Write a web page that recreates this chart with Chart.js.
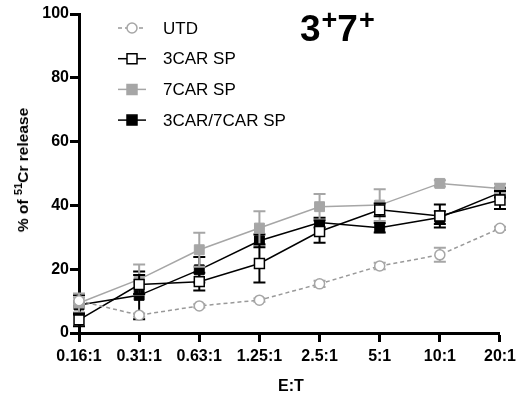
<!DOCTYPE html>
<html>
<head>
<meta charset="utf-8">
<script src="https://cdn.jsdelivr.net/npm/chart.js@4.4.0/dist/chart.umd.min.js"></script>
<style>
    body { margin: 0; background: #fff; font-family: "Liberation Sans", Arial, sans-serif; }
    #wrap { position: relative; width: 521px; height: 393px; }
    #title { position: absolute; left: 300px; top: 10px; font-size: 37px; font-weight: bold; line-height: 1; color: #000; }
    #title span { font-size: 27px; position: relative; top: -12px; margin-left: 1px; }
    #ytitle { position: absolute; left: 23px; top: 170px; font-size: 15.5px; font-weight: bold; white-space: nowrap;
              transform: translate(-50%, -50%) rotate(-90deg); }
    #ytitle sup { font-size: 11px; vertical-align: 6px; line-height: 0; }
    #xtitle { position: absolute; left: 291px; top: 386px; transform: translate(-50%, -50%); font-size: 16px; font-weight: bold; }
</style>
</head>
<body>
<div id="wrap">
    <canvas id="chart" width="521" height="393"></canvas>
    <div id="title">3<span>+</span>7<span>+</span></div>
    <div id="ytitle">% of <sup>51</sup>Cr release</div>
    <div id="xtitle">E:T</div>
</div>
<script>
// ratios (E:T)
var ratios = ['0.16:1', '0.31:1', '0.63:1', '1.25:1', '2.5:1', '5:1', '10:1', '20:1'];
var yTicks = [0, 20, 40, 60, 80, 100];

// % release, mean and error
var utd = [10.1, 5.6, 8.5, 10.3, 15.4, 21, 24.5, 32.8];
var utdErr = [1, 0.5, 0.5, 0.5, 1, 1, 2.2, 0.5];
var car3 = [4.1, 15.2, 16.1, 21.8, 31.8, 38.6, 36.7, 41.7];
var car3Err = [2, 3, 2.8, 6, 3.5, 2, 3.6, 2.8];
var car7 = [9.4, 16.8, 26.1, 32.9, 39.6, 40.1, 46.9, 45.3];
var car7Err = [3, 4.7, 5.3, 5.3, 4, 5, 1, 1.5];
var car37 = [8.8, 11.8, 19.8, 28.9, 34.6, 33, 36.2, 44];
var car37Err = [3, 7.5, 4, 2, 1.5, 1.5, 2, 1.5];

var GREY = '#a6a6a6';
var FONT = '"Liberation Sans", Arial, sans-serif';

// error bars drawn under each dataset's markers
var errorBars = {
    id: 'errorBars',
    beforeDatasetDraw: function(chart, args) {
        var ds = chart.data.datasets[args.index];
        if (!ds.errors) return;
        var ctx = chart.ctx;
        var y = chart.scales.y;
        ctx.save();
        ctx.strokeStyle = ds.errColor;
        ctx.lineWidth = 2;
        args.meta.data.forEach(function(pt, i) {
            var e = ds.errors[i];
            if (!e) return;
            var top = y.getPixelForValue(ds.data[i] + e);
            var bot = y.getPixelForValue(ds.data[i] - e);
            ctx.beginPath();
            ctx.moveTo(pt.x, top); ctx.lineTo(pt.x, bot);
            ctx.moveTo(pt.x - 6, top); ctx.lineTo(pt.x + 6, top);
            ctx.moveTo(pt.x - 6, bot); ctx.lineTo(pt.x + 6, bot);
            ctx.stroke();
        });
        ctx.restore();
    }
};

// GraphPad style legend: line through marker, label on the right
var sideLegend = {
    id: 'sideLegend',
    afterDraw: function(chart) {
        var ctx = chart.ctx;
        ctx.save();
        chart.data.datasets.forEach(function(ds, i) {
            var cy = 28 + i * 30.7;
            var cx = 132;
            ctx.strokeStyle = ds.borderColor;
            ctx.lineWidth = 1.5;
            ctx.setLineDash(ds.borderDash || []);
            ctx.beginPath();
            ctx.moveTo(118, cy); ctx.lineTo(146, cy);
            ctx.stroke();
            ctx.setLineDash([]);
            ctx.fillStyle = ds.pointBackgroundColor;
            ctx.strokeStyle = ds.pointBorderColor;
            ctx.lineWidth = 1.5;
            ctx.beginPath();
            if (ds.pointStyle === 'circle') {
                ctx.arc(cx, cy, 5, 0, Math.PI * 2);
            } else {
                ctx.rect(cx - 5, cy - 5, 10, 10);
            }
            ctx.fill();
            ctx.stroke();
            ctx.fillStyle = '#000';
            ctx.font = '17px ' + FONT;
            ctx.textBaseline = 'middle';
            ctx.fillText(ds.label, 163, cy + 1);
        });
        ctx.restore();
    }
};

var ctx = document.getElementById('chart').getContext('2d');
var chart = new Chart(ctx, {
    type: 'line',
    data: {
        labels: ratios,
        datasets: [{
            label: 'UTD',
            data: utd,
            errors: utdErr,
            errColor: GREY,
            borderColor: '#999',
            borderDash: [4, 3],
            borderWidth: 1.5,
            pointStyle: 'circle',
            pointRadius: 5,
            pointBackgroundColor: '#fff',
            pointBorderColor: GREY,
            pointBorderWidth: 1.5
        }, {
            label: '3CAR SP',
            data: car3,
            errors: car3Err,
            errColor: '#000',
            borderColor: '#000',
            borderWidth: 1.5,
            pointStyle: 'rect',
            pointRadius: 7,
            pointBackgroundColor: '#fff',
            pointBorderColor: '#000',
            pointBorderWidth: 1.5
        }, {
            label: '7CAR SP',
            data: car7,
            errors: car7Err,
            errColor: GREY,
            borderColor: GREY,
            borderWidth: 1.5,
            pointStyle: 'rect',
            pointRadius: 7,
            pointBackgroundColor: GREY,
            pointBorderColor: GREY,
            pointBorderWidth: 1
        }, {
            label: '3CAR/7CAR SP',
            data: car37,
            errors: car37Err,
            errColor: '#000',
            borderColor: '#000',
            borderWidth: 1.5,
            pointStyle: 'rect',
            pointRadius: 7,
            pointBackgroundColor: '#000',
            pointBorderColor: '#000',
            pointBorderWidth: 1
        }]
    },
    options: {
        responsive: false,
        animation: false,
        clip: false,
        layout: { padding: { top: 14, right: 16, left: 0, bottom: 0 } },
        plugins: { legend: { display: false }, tooltip: { enabled: false } },
        elements: { line: { tension: 0 } },
        scales: {
            x: {
                type: 'category',
                offset: false,
                afterFit: function(s) { s.height = 60; },
                border: { display: true, color: '#000', width: 3 },
                grid: { display: true, drawOnChartArea: false, drawTicks: true, tickLength: 9, tickWidth: 3, tickColor: '#000' },
                ticks: { color: '#000', padding: 5, maxRotation: 0, autoSkip: false,
                         font: { family: FONT, size: 16, weight: 'bold' } }
            },
            y: {
                min: 0,
                max: 100,
                afterFit: function(s) { s.width = 79; },
                afterBuildTicks: function(s) { s.ticks = yTicks.map(function(v) { return { value: v }; }); },
                border: { display: true, color: '#000', width: 3 },
                grid: { display: true, drawOnChartArea: false, drawTicks: true, tickLength: 9, tickWidth: 3, tickColor: '#000' },
                ticks: { color: '#000', padding: 1,
                         font: { family: FONT, size: 16, weight: 'bold' } }
            }
        }
    },
    plugins: [errorBars, sideLegend]
});
</script>
</body>
</html>
